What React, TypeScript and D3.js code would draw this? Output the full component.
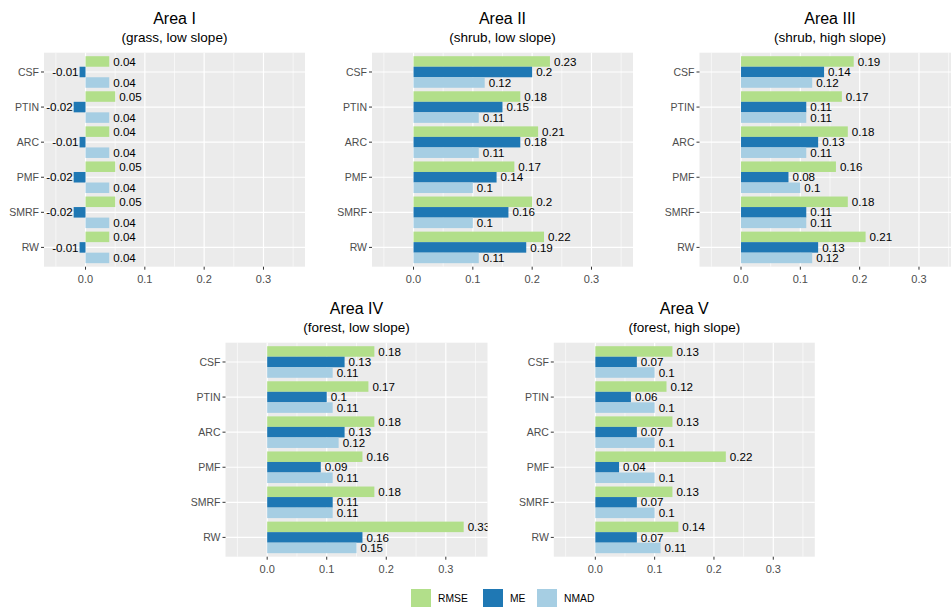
import React from "react";
import * as d3 from "d3";

const categories = ["CSF", "PTIN", "ARC", "PMF", "SMRF", "RW"];
const metrics = ["RMSE", "ME", "NMAD"];
const metricColors = ["#b2df8a", "#1f78b4", "#a6cee3"];
const xTicks = [0, 0.1, 0.2, 0.3];
const xMinor = [-0.05, 0.05, 0.15, 0.25, 0.35];

const areaTitles = ["Area I", "Area II", "Area III", "Area IV", "Area V"];
const areaSubtitles = [
  "(grass, low slope)",
  "(shrub, low slope)",
  "(shrub, high slope)",
  "(forest, low slope)",
  "(forest, high slope)",
];

const rmseI = [0.04, 0.05, 0.04, 0.05, 0.05, 0.04];
const meI = [-0.01, -0.02, -0.01, -0.02, -0.02, -0.01];
const nmadI = [0.04, 0.04, 0.04, 0.04, 0.04, 0.04];

const rmseII = [0.23, 0.18, 0.21, 0.17, 0.2, 0.22];
const meII = [0.2, 0.15, 0.18, 0.14, 0.16, 0.19];
const nmadII = [0.12, 0.11, 0.11, 0.1, 0.1, 0.11];

const rmseIII = [0.19, 0.17, 0.18, 0.16, 0.18, 0.21];
const meIII = [0.14, 0.11, 0.13, 0.08, 0.11, 0.13];
const nmadIII = [0.12, 0.11, 0.11, 0.1, 0.11, 0.12];

const rmseIV = [0.18, 0.17, 0.18, 0.16, 0.18, 0.33];
const meIV = [0.13, 0.1, 0.13, 0.09, 0.11, 0.16];
const nmadIV = [0.11, 0.11, 0.12, 0.11, 0.11, 0.15];

const rmseV = [0.13, 0.12, 0.13, 0.22, 0.13, 0.14];
const meV = [0.07, 0.06, 0.07, 0.04, 0.07, 0.07];
const nmadV = [0.1, 0.1, 0.1, 0.1, 0.1, 0.11];

const areaValues = [
  [rmseI, meI, nmadI],
  [rmseII, meII, nmadII],
  [rmseIII, meIII, nmadIII],
  [rmseIV, meIV, nmadIV],
  [rmseV, meV, nmadV],
];

// layout: plot rectangles for each panel
const panelBoxes = [
  { x0: 44, x1: 305, y0: 52.7, y1: 266.7 },
  { x0: 372, x1: 633, y0: 52.7, y1: 266.7 },
  { x0: 699.5, x1: 960.5, y0: 52.7, y1: 266.7 },
  { x0: 225.5, x1: 487.5, y0: 342.7, y1: 556.7 },
  { x0: 553.8, x1: 814.8, y0: 342.7, y1: 556.7 },
];

const FONT = "'Liberation Sans', Arial, sans-serif";
const fmt = (v: number) => String(+v.toFixed(2));

function Panel({ idx }: { idx: number }) {
  const box = panelBoxes[idx];
  const vals = areaValues[idx];
  const x = d3.scaleLinear().domain([-0.07, 0.37]).range([box.x0, box.x1]);
  const y = d3
    .scaleBand<string>()
    .domain(categories)
    .range([box.y0, box.y1])
    .paddingInner(0)
    .paddingOuter(0.05);
  const step = y.step();
  const inner = d3
    .scaleBand<string>()
    .domain(metrics)
    .range([-0.45 * step, 0.45 * step]);
  const cx = (box.x0 + box.x1) / 2;
  const off = idx >= 3 ? 290 : 0;
  return (
    <g>
      <defs>
        <clipPath id={`clip${idx}`}>
          <rect x={box.x0} y={box.y0} width={box.x1 - box.x0} height={box.y1 - box.y0} />
        </clipPath>
      </defs>
      <text x={cx} y={24 + off} textAnchor="middle" fontFamily={FONT} fontSize={16} fill="#000">
        {areaTitles[idx]}
      </text>
      <text x={cx} y={42 + off} textAnchor="middle" fontFamily={FONT} fontSize={13.5} fill="#000">
        {areaSubtitles[idx]}
      </text>
      <rect x={box.x0} y={box.y0} width={box.x1 - box.x0} height={box.y1 - box.y0} fill="#ebebeb" />
      {xMinor.map((t) => (
        <line key={"mn" + t} x1={x(t)} x2={x(t)} y1={box.y0} y2={box.y1} stroke="#fff" strokeWidth={0.6} />
      ))}
      {xTicks.map((t) => (
        <line key={"mj" + t} x1={x(t)} x2={x(t)} y1={box.y0} y2={box.y1} stroke="#fff" strokeWidth={1.2} />
      ))}
      {categories.map((c) => {
        const yc = (y(c) as number) + step / 2;
        return <line key={"hg" + c} x1={box.x0} x2={box.x1} y1={yc} y2={yc} stroke="#fff" strokeWidth={1.2} />;
      })}
      <g clipPath={`url(#clip${idx})`}>
        {categories.map((c, ci) => {
          const yc = (y(c) as number) + step / 2;
          return metrics.map((m, mi) => {
            const v = vals[mi][ci];
            const by = yc + (inner(m) as number);
            const bh = inner.bandwidth();
            return (
              <rect
                key={c + m}
                x={Math.min(x(0), x(v))}
                y={by}
                width={Math.abs(x(v) - x(0))}
                height={bh}
                fill={metricColors[mi]}
              />
            );
          });
        })}
        {categories.map((c, ci) => {
          const yc = (y(c) as number) + step / 2;
          return metrics.map((m, mi) => {
            const v = vals[mi][ci];
            const by = yc + (inner(m) as number) + inner.bandwidth() / 2;
            const neg = v < 0;
            return (
              <text
                key={"lb" + c + m}
                x={neg ? x(v) - 1 : x(v) + 4}
                y={by}
                dy="0.36em"
                textAnchor={neg ? "end" : "start"}
                fontFamily={FONT}
                fontSize={11.6}
                fill="#000"
              >
                {fmt(v)}
              </text>
            );
          });
        })}
      </g>
      {categories.map((c) => {
        const yc = (y(c) as number) + step / 2;
        return (
          <g key={"yt" + c}>
            <line x1={box.x0 - 3} x2={box.x0} y1={yc} y2={yc} stroke="#333" strokeWidth={1} />
            <text x={box.x0 - 5} y={yc} dy="0.36em" textAnchor="end" fontFamily={FONT} fontSize={10.5} fill="#4d4d4d">
              {c}
            </text>
          </g>
        );
      })}
      {xTicks.map((t) => (
        <g key={"xt" + t}>
          <line x1={x(t)} x2={x(t)} y1={box.y1} y2={box.y1 + 3} stroke="#333" strokeWidth={1} />
          <text x={x(t)} y={box.y1 + 15.8} textAnchor="middle" fontFamily={FONT} fontSize={11} fill="#4d4d4d">
            {t.toFixed(1)}
          </text>
        </g>
      ))}
    </g>
  );
}

const legendX = [411, 483, 537];

export default function App() {
  return (
    <svg
      width={951}
      height={607}
      style={{ position: "absolute", left: 0, top: 0, background: "#fff" }}
    >
      <rect x={0} y={0} width={951} height={607} fill="#fff" />
      {areaTitles.map((_, i) => (
        <Panel key={i} idx={i} />
      ))}
      {metrics.map((m, i) => (
        <g key={"lg" + m}>
          <rect x={legendX[i]} y={589} width={20} height={20} fill={metricColors[i]} />
          <text x={legendX[i] + 27} y={598.5} dy="0.36em" fontFamily={FONT} fontSize={10.3} fill="#000">
            {m}
          </text>
        </g>
      ))}
    </svg>
  );
}
